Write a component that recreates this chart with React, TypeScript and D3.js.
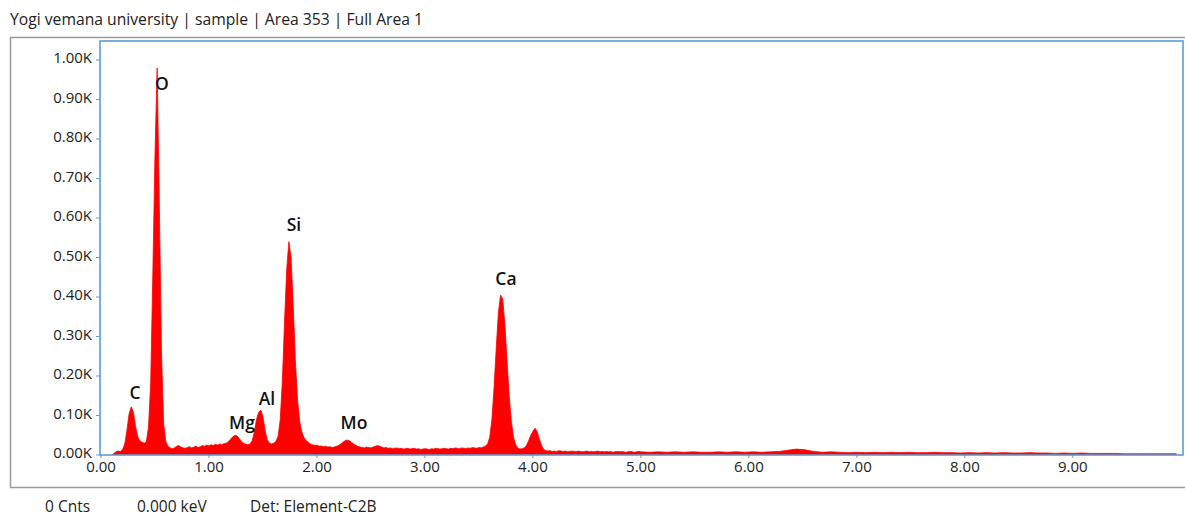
import React from "react";
import * as d3 from "d3";

const titleText = "Yogi vemana university | sample | Area 353 | Full Area 1";
const footerTexts = ["0 Cnts", "0.000 keV", "Det: Element-C2B"];
const footerX = [45, 137, 250];

const xTicks = [0, 1, 2, 3, 4, 5, 6, 7, 8, 9];
const yTicks = [0, 100, 200, 300, 400, 500, 600, 700, 800, 900, 1000];

// Fine part of the spectrum: 0.10 keV to 4.98 keV, every 0.02 keV
const fineStart = 0.1;
const fineStep = 0.02;
const fineCounts = [
  0, 4, 8, 10, 9, 14, 28, 62, 104, 122, 108, 72, 46, 36, 32, 30, 34, 70, 180, 460,
  760, 980, 640, 260, 80, 34, 22, 18, 16, 18, 22, 24, 20, 18, 17, 19, 21, 18, 20, 22,
  19, 21, 24, 22, 25, 23, 26, 24, 27, 25, 28, 26, 29, 30, 34, 40, 46, 50, 48, 42,
  34, 30, 27, 26, 28, 36, 58, 90, 108, 114, 96, 62, 38, 30, 28, 30, 34, 48, 90, 190,
  340, 470, 540, 500, 380, 240, 140, 85, 58, 44, 36, 32, 28, 26, 24, 25, 22, 23, 21, 22,
  20, 21, 19, 20, 22, 24, 28, 32, 36, 38, 36, 32, 28, 24, 22, 20, 19, 18, 20, 19,
  18, 20, 22, 24, 22, 20, 18, 19, 17, 18, 16, 17, 18, 16, 17, 15, 16, 17, 15, 16,
  17, 15, 16, 14, 15, 16, 15, 14, 16, 15, 17, 16, 15, 16, 17, 16, 15, 17, 16, 18,
  17, 16, 18, 17, 16, 18, 17, 19, 18, 17, 19, 18, 20, 22, 28, 45, 90, 170, 270, 360,
  405, 395, 330, 240, 150, 85, 45, 26, 18, 15, 16, 18, 24, 36, 50, 60, 68, 58, 40, 24,
  14, 11, 10, 11, 9, 10, 9, 11, 10, 9, 10, 8, 9, 10, 9, 8, 10, 9, 8, 9,
  10, 8, 9, 8, 9, 10, 8, 9, 8, 9, 8, 9, 7, 8, 9, 8, 9, 8, 7, 8, 9, 8, 7, 8, 9,
];

// Coarse part: 5.0 keV to 9.96 keV, every 0.08 keV
const coarseStart = 5.0;
const coarseStep = 0.08;
const coarseCounts = [
  8, 7, 8, 7, 8, 7, 8, 7, 7, 8, 7, 8, 7, 8, 7, 8, 9, 12, 15, 13,
  9, 7, 8, 7, 6, 7, 6, 7, 6, 7, 6, 7, 6, 6, 7, 6, 6, 5, 6, 5,
  6, 5, 6, 5, 5, 6, 5, 5, 4, 5, 4, 5, 4, 4, 4, 4, 3, 3, 3, 3, 3, 3, 3,
];

const elementNames = ["O", "Si", "Ca", "C", "Al", "Mg", "Mo"];
const elementEnergy = [0.565, 1.787, 3.75, 0.315, 1.537, 1.306, 2.343];
const elementLabelCount = [939, 582, 446, 157, 142, 81, 81];

export default function App() {
  const W = 1185;
  const H = 517;
  const left = 101;
  const right = 1183;
  const top = 41;
  const bottom = 455;

  const x = d3.scaleLinear().domain([0, 10.02]).range([left, right]);
  const y = d3.scaleLinear().domain([0, 1048]).range([bottom, top]);

  const points: [number, number][] = [];
  fineCounts.forEach((c, i) => points.push([fineStart + i * fineStep, c]));
  coarseCounts.forEach((c, i) => points.push([coarseStart + i * coarseStep, c]));

  const area = d3
    .area<[number, number]>()
    .x((d) => x(d[0]))
    .y0(y(0))
    .y1((d) => y(d[1]))
    .curve(d3.curveLinear);
  const line = d3
    .line<[number, number]>()
    .x((d) => x(d[0]))
    .y((d) => y(d[1]))
    .curve(d3.curveLinear);

  const font = "'Open Sans', 'Noto Sans', sans-serif";
  const textColor = "#222";
  const fs = 15;
  const yFmt = (v: number) => (v / 1000).toFixed(2) + "K";

  return (
    <svg
      width={W}
      height={H}
      style={{ position: "absolute", left: 0, top: 0, background: "#fff" }}
      fontFamily={font}
    >
      <rect x={0} y={0} width={W} height={H} fill="#fff" />
      <text x={10} y={25} fontSize={15.7} fill={textColor}>
        {titleText}
      </text>
      {/* outer frame */}
      <rect x={10.5} y={37.5} width={1200} height={450} fill="none" stroke="#9a9a9a" strokeWidth={1.5} />

      {/* spectrum */}
      <path d={area(points) || ""} fill="#ff0000" />
      <path d={line(points) || ""} fill="none" stroke="#ff0000" strokeWidth={0.8} />

      {/* plot box */}
      <rect
        x={left - 1}
        y={top}
        width={right - left + 1}
        height={bottom - top}
        fill="none"
        stroke="#5b9bd5"
        strokeWidth={1.6}
      />

      {/* y axis ticks */}
      {yTicks.map((t) => (
        <g key={"y" + t}>
          <line x1={left - 5} x2={left - 1} y1={y(t)} y2={y(t)} stroke="#5b9bd5" strokeWidth={1} />
          <text
            x={92}
            y={y(t) - 2}
            dy="0.35em"
            textAnchor="end"
            fontSize={fs}
            fill={textColor}
          >
            {yFmt(t)}
          </text>
        </g>
      ))}

      {/* x axis ticks */}
      {xTicks.map((t) => (
        <g key={"x" + t}>
          <line x1={x(t)} x2={x(t)} y1={bottom} y2={bottom + 3} stroke="#5b9bd5" strokeWidth={1} />
          <text x={x(t)} y={bottom + 17} textAnchor="middle" fontSize={fs} fill={textColor}>
            {t.toFixed(2)}
          </text>
        </g>
      ))}

      {/* element labels */}
      {elementNames.map((n, i) => (
        <text
          key={n}
          x={x(elementEnergy[i])}
          y={y(elementLabelCount[i])}
          dy="0.35em"
          textAnchor="middle"
          fontSize={17.5}
          fontWeight={600}
          fill="#111"
        >
          {n}
        </text>
      ))}

      {/* footer */}
      {footerTexts.map((t, i) => (
        <text key={t} x={footerX[i]} y={512} fontSize={15.5} fill={textColor}>
          {t}
        </text>
      ))}
    </svg>
  );
}
